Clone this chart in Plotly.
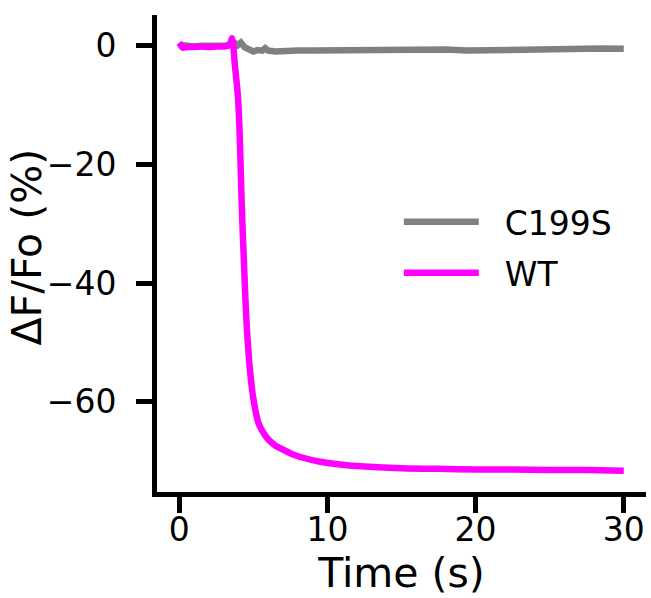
import plotly.graph_objects as go

# ---- data ----
wt_time = [0, 0.25, 0.5, 1.0, 1.5, 2.0, 2.5, 3.0, 3.3, 3.45, 3.56, 3.65, 3.74, 3.85,
           3.96, 4.07, 4.14, 4.2, 4.28, 4.37, 4.46, 4.57, 4.73, 4.84, 4.98, 5.18, 5.35,
           5.58, 6.03, 6.5, 7.04, 7.6, 8.17, 9.52, 11, 12.5, 15, 17.5, 20, 22.5, 25,
           27.5, 30]
wt_values = [0.5, -0.3, -0.2, -0.2, -0.1, -0.2, -0.1, -0.1, 0.0, 0.4, 1.3, 0.0, -2.9,
             -5.5, -8.5, -14.2, -19.8, -25.4, -31.0, -36.6, -42.3, -47.9, -53.5, -56.3,
             -59.1, -61.9, -63.6, -64.8, -66.4, -67.4, -68.1, -68.8, -69.3, -70.1,
             -70.6, -70.9, -71.2, -71.3, -71.4, -71.4, -71.5, -71.5, -71.6]

c199s_time = [0, 0.5, 1, 1.5, 2, 2.5, 3, 3.5, 3.78, 3.95, 4.16, 4.4, 4.7, 5.0, 5.3,
              5.6, 5.8, 6.0, 6.5, 7, 8, 9, 10, 11.5, 13, 14.5, 15.9, 17, 18, 19.4,
              21, 22.5, 24, 25.5, 27, 28.5, 30]
c199s_values = [0.2, 0.0, -0.1, 0.0, -0.1, 0.0, 0.0, 0.2, 0.45, 0.1, 0.55, -0.2, -0.6,
                -0.95, -0.7, -0.8, -0.4, -0.8, -0.95, -0.85, -0.8, -0.8, -0.75, -0.7,
                -0.7, -0.65, -0.5, -0.55, -0.6, -0.8, -0.7, -0.6, -0.6, -0.55, -0.5,
                -0.45, -0.5]

series_names = ["C199S", "WT"]
series_colors = ["#808080", "#ff00ff"]

x_ticks = [0, 10, 20, 30]
y_ticks = [0, -20, -40, -60]
x_title = "Time (s)"
y_title = "\u0394F/Fo (%)"

FONT = "DejaVu Sans"
GAP = "\u00a0\u00a0"

fig = go.Figure()
fig.add_trace(go.Scatter(x=c199s_time, y=c199s_values, mode="lines", name=GAP + series_names[0],
                         legendgroup="a",
                         line=dict(color=series_colors[0], width=6.5)))
fig.add_trace(go.Scatter(x=wt_time, y=wt_values, mode="lines", name=GAP + series_names[1],
                         legendgroup="b",
                         line=dict(color=series_colors[1], width=6.5, shape="spline", smoothing=0.6)))

fig.update_layout(
    width=651, height=598,
    margin=dict(l=157, r=5, t=15, b=106),
    paper_bgcolor="white", plot_bgcolor="white",
    font=dict(family=FONT, size=33, color="black"),
    showlegend=True,
    legend=dict(x=0.4945, y=0.513, xanchor="left", yanchor="middle",
                bgcolor="rgba(0,0,0,0)", font=dict(size=33, family=FONT),
                itemwidth=75, tracegroupgap=5),
    annotations=[dict(text=y_title, textangle=-90, xref="paper", yref="paper",
                      x=0, y=0.5126, xshift=-130, xanchor="center", yanchor="middle",
                      showarrow=False, font=dict(size=41, family=FONT, color="black"))],
)
fig.update_xaxes(
    range=[-1.5, 31.5], tickvals=x_ticks, ticktext=[str(v) for v in x_ticks],
    showgrid=False, zeroline=False, showline=True, linecolor="black", linewidth=5,
    ticks="outside", ticklen=16, tickwidth=5, tickcolor="black",
    tickfont=dict(size=33, family=FONT), ticklabelstandoff=-12,
    title=dict(text=x_title, font=dict(size=41, family=FONT), standoff=10),
    automargin=False,
)
fig.update_yaxes(
    range=[-75.2, 5.2], tickvals=y_ticks, ticktext=["0", "\u221220", "\u221240", "\u221260"],
    showgrid=False, zeroline=False, showline=True, linecolor="black", linewidth=5,
    ticks="outside", ticklen=16, tickwidth=5, tickcolor="black",
    tickfont=dict(size=33, family=FONT), ticklabelstandoff=13,
    automargin=False,
)

fig.write_html("out.html")
